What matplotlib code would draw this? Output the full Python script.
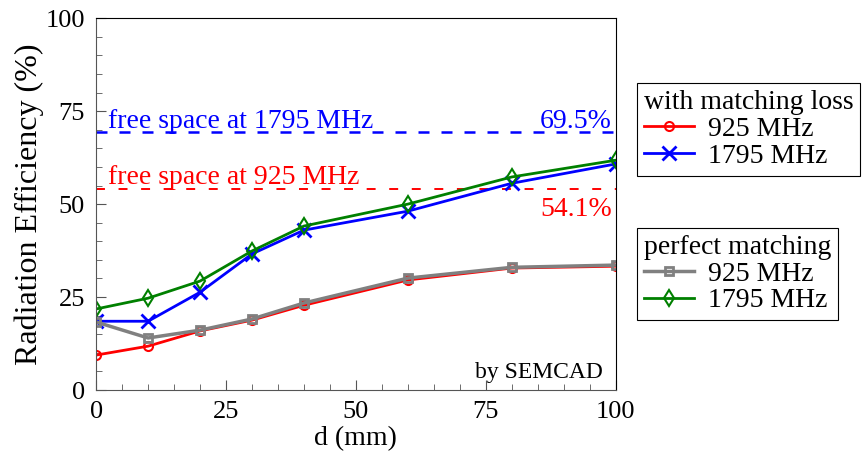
import numpy as np
import matplotlib
matplotlib.use('Agg')
from matplotlib import pyplot as plt
from matplotlib.ticker import MultipleLocator

plt.rcParams['font.family'] = ['Liberation Serif', 'DejaVu Serif']

d = [0, 10, 20, 30, 40, 60, 80, 100]
loss_925 = [9.4, 11.8, 15.9, 18.8, 22.8, 29.6, 32.8, 33.3]
loss_1795 = [18.5, 18.5, 26.3, 36.6, 43.0, 48.1, 55.6, 60.8]
perf_925 = [18.3, 14.0, 16.1, 19.1, 23.4, 30.1, 33.0, 33.6]
perf_1795 = [21.8, 24.7, 29.3, 37.4, 44.1, 50.0, 57.3, 61.8]
free_925 = 54.1
free_1795 = 69.5

fig = plt.figure(figsize=(8.66, 4.66), dpi=100)
ax = fig.add_axes([0.111, 0.163, 0.600, 0.798])

ax.axhline(free_1795, color='blue', ls=(0, (4.4, 4.8)), lw=1.8)
ax.axhline(free_925, color='red', ls=(0, (4.6, 7.0)), lw=1.4)

l1, = ax.plot(d, loss_925, '-o', color='red', lw=2, ms=6.5, mfc='none', mew=1.5)
l2, = ax.plot(d, loss_1795, '-x', color='blue', lw=2, ms=10, mew=2)
l3, = ax.plot(d, perf_925, '-s', color='gray', lw=2.5, ms=6, mfc='none', mew=2)
l4, = ax.plot(d, perf_1795, '-d', color='green', lw=2, ms=8, mfc='none', mew=1.5)

fs = 20
ax.text(2.3, 70.6, 'free space at 1795 MHz', color='blue', fontsize=fs)
ax.text(99.3, 70.6, '69.5%', color='blue', fontsize=fs, ha='right')
ax.text(2.3, 55.4, 'free space at 925 MHz', color='red', fontsize=fs)
ax.text(99.3, 46.8, '54.1%', color='red', fontsize=fs, ha='right')
ax.text(97.5, 3.2, 'by SEMCAD', color='black', fontsize=17, ha='right')

ax.set_xlim(0, 100)
ax.set_ylim(0, 100)
ax.xaxis.set_major_locator(MultipleLocator(25))
ax.yaxis.set_major_locator(MultipleLocator(25))
ax.xaxis.set_minor_locator(MultipleLocator(5))
ax.yaxis.set_minor_locator(MultipleLocator(5))
ax.tick_params(which='both', direction='in', labelsize=19, pad=8, color='#555555')
ax.tick_params(which='major', length=7)
ax.tick_params(which='minor', length=4)
ax.spines['left'].set_color('#555555')
ax.spines['bottom'].set_color('#555555')
ax.set_xlabel('d (mm)', fontsize=20, labelpad=2)
ax.set_ylabel('Radiation Efficiency (%)', fontsize=23, labelpad=1)

legend_kw = dict(loc='upper left', fontsize=fs, title_fontsize=fs, alignment='left',
                 fancybox=False, edgecolor='black', framealpha=1, handlelength=1.8,
                 borderpad=0.25, labelspacing=0.05, handletextpad=0.5,
                 borderaxespad=0)
fig.legend([l1, l2], ['925 MHz', '1795 MHz'], title='with matching loss',
           bbox_to_anchor=(0.7355, 0.822), **legend_kw)
fig.legend([l3, l4], ['925 MHz', '1795 MHz'], title='perfect matching',
           bbox_to_anchor=(0.7355, 0.511), **legend_kw)
for lg in fig.legends:
    lg.get_frame().set_linewidth(0.8)

fig.savefig('out.png', dpi=100)
